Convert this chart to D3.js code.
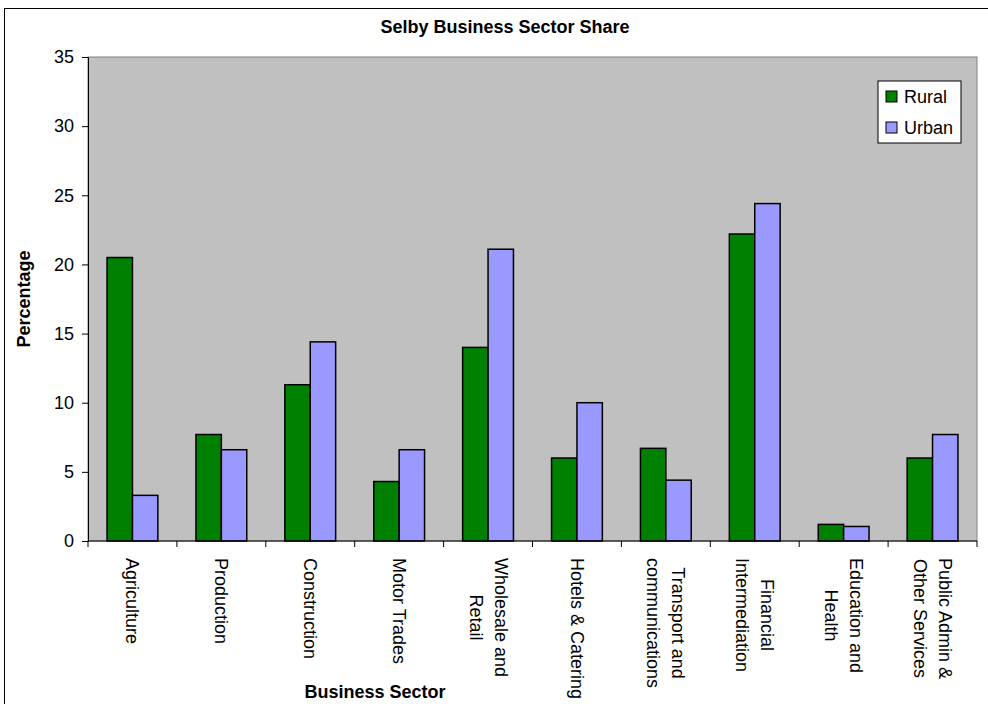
<!DOCTYPE html>
<html>
<head>
<meta charset="utf-8">
<script src="https://cdn.jsdelivr.net/npm/d3@7"></script>
<style>
  html, body { margin: 0; padding: 0; background: #ffffff; }
  svg { display: block; }
  text { font-family: "Liberation Sans", Arial, sans-serif; fill: #000; }
</style>
</head>
<body>
<svg id="chart" width="988" height="704"></svg>
<script>
// ---- data ----
const categories = [
  "Agriculture", "Production", "Construction", "Motor Trades",
  "Wholesale and\nRetail", "Hotels & Catering", "Transport and\ncommunications",
  "Financial\nIntermediation", "Education and\nHealth", "Public Admin &\nOther Services"
];
const seriesNames = ["Rural", "Urban"];
const rural = [20.5, 7.7, 11.3, 4.3, 14.0, 6.0, 6.7, 22.2, 1.2, 6.0];
const urban = [3.3, 6.6, 14.4, 6.6, 21.1, 10.0, 4.4, 24.4, 1.05, 7.7];
const yTicks = [0, 5, 10, 15, 20, 25, 30, 35];
const colors = ["#008000", "#9999FF"];

// ---- layout ----
const svg = d3.select("#chart");
const plot = { left: 88, right: 977, top: 57, bottom: 541 };

// outer chart border
svg.append("rect")
  .attr("x", 4.5).attr("y", 8.5)
  .attr("width", 1000).attr("height", 720)
  .attr("fill", "#fff").attr("stroke", "#000").attr("stroke-width", 1);

const x = d3.scaleBand().domain(categories).range([plot.left, plot.right]).padding(0);
const xs = d3.scaleBand().domain(seriesNames).range([0, x.bandwidth()])
  .paddingInner(0).paddingOuter(0.75);
const y = d3.scaleLinear().domain([0, 35]).range([plot.bottom, plot.top]);

// plot area
svg.append("rect")
  .attr("x", plot.left).attr("y", plot.top)
  .attr("width", plot.right - plot.left).attr("height", plot.bottom - plot.top)
  .attr("fill", "#C0C0C0").attr("stroke", "#808080").attr("stroke-width", 1);

// bars
const rows = categories.map((c, i) => ({ cat: c, vals: [rural[i], urban[i]] }));
const groups = svg.append("g").selectAll("g").data(rows).join("g")
  .attr("transform", d => `translate(${x(d.cat)},0)`);
groups.selectAll("rect")
  .data(d => d.vals.map((v, j) => ({ name: seriesNames[j], v, j })))
  .join("rect")
  .attr("x", d => xs(d.name))
  .attr("y", d => y(d.v))
  .attr("width", xs.bandwidth())
  .attr("height", d => y(0) - y(d.v))
  .attr("fill", d => colors[d.j])
  .attr("stroke", "#000").attr("stroke-width", 1.5);

// y axis
const yAxis = d3.axisLeft(y).tickValues(yTicks).tickSize(6).tickPadding(8);
const gy = svg.append("g").attr("transform", `translate(${plot.left},0)`).call(yAxis);
gy.select(".domain").attr("stroke", "#000");
gy.selectAll(".tick line").attr("stroke", "#000");
gy.selectAll(".tick text")
  .style("font-family", '"Liberation Sans", Arial, sans-serif')
  .style("font-size", "18px").attr("fill", "#000");

// x axis (ticks at category boundaries)
const gx = svg.append("g").attr("transform", `translate(0,${plot.bottom})`);
gx.append("line").attr("x1", plot.left).attr("x2", plot.right)
  .attr("y1", 0).attr("y2", 0).attr("stroke", "#000");
const bounds = categories.map(c => x(c)).concat([x(categories[categories.length - 1]) + x.bandwidth()]);
gx.selectAll("line.tk").data(bounds).join("line").attr("class", "tk")
  .attr("x1", d => d).attr("x2", d => d).attr("y1", 0).attr("y2", 6)
  .attr("stroke", "#000");

// x labels rotated 90deg, multi-line centred
const lineGap = 25;
const startY = plot.bottom + 17;
categories.forEach(c => {
  const lines = c.split("\n");
  const cx = x(c) + x.bandwidth() / 2;
  const g = svg.append("g");
  const texts = lines.map((ln, i) => g.append("text")
    .text(ln)
    .style("font-size", "18px")
    .attr("text-anchor", "middle")
    .attr("dominant-baseline", "central"));
  const maxLen = d3.max(texts, t => t.node().getComputedTextLength());
  texts.forEach((t, i) => {
    const off = (i - (lines.length - 1) / 2) * lineGap;
    t.attr("transform", `translate(${cx - off},${startY + maxLen / 2}) rotate(90)`);
  });
});

// title
svg.append("text").text("Selby Business Sector Share")
  .attr("x", 505).attr("y", 33).attr("text-anchor", "middle")
  .style("font-size", "18px").style("font-weight", "bold");

// axis titles
svg.append("text").text("Percentage")
  .attr("transform", "translate(30,299) rotate(-90)")
  .attr("text-anchor", "middle")
  .style("font-size", "18px").style("font-weight", "bold");
svg.append("text").text("Business Sector")
  .attr("x", 375).attr("y", 698).attr("text-anchor", "middle")
  .style("font-size", "18px").style("font-weight", "bold");

// legend
const lg = svg.append("g").attr("transform", "translate(878,81)");
lg.append("rect").attr("width", 83).attr("height", 62)
  .attr("fill", "#fff").attr("stroke", "#000");
seriesNames.forEach((s, i) => {
  const cy = 15.5 + i * 31;
  lg.append("rect").attr("x", 8).attr("y", cy - 5.5).attr("width", 11).attr("height", 11)
    .attr("fill", colors[i]).attr("stroke", "#000");
  lg.append("text").text(s).attr("x", 26).attr("y", cy)
    .attr("dominant-baseline", "central").style("font-size", "18px");
});
</script>
</body>
</html>
